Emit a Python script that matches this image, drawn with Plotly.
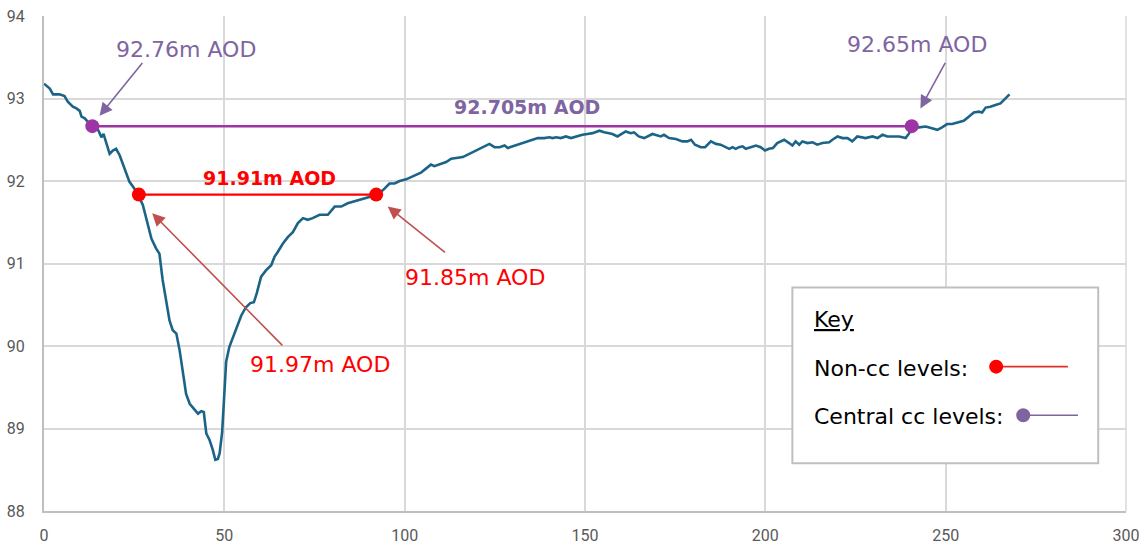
import plotly.graph_objects as go

# Ground profile (distance, level m AOD)
dist = [0, 1.6, 2.5, 4.3, 5.7, 6.6, 8.0, 9.0, 9.9, 10.4, 11.3, 13.1, 15.0, 15.9, 16.5, 17.7, 18.2, 19.1, 20.0, 21.0,
        21.9, 22.8, 23.7, 24.7, 25.9, 27.4, 28.8, 29.8, 31.1, 32.0, 32.9, 33.9, 34.8, 35.7, 36.7, 37.6, 38.5, 39.4,
        40.4, 41.3, 42.7, 43.6, 44.3, 45.0, 45.9, 46.8, 47.5, 48.2, 48.7, 49.4, 50.1, 50.5, 51.4, 52.4, 53.5, 54.7,
        56.0, 57.2, 58.2, 59.0, 60.2, 61.6, 63.0, 63.9, 64.8, 66.2, 67.6, 69.0, 70.4, 71.8, 73.1, 74.5, 76.4, 78.7,
        80.6, 82.4, 84.2, 86.5, 88.4, 90.3, 92.1, 94.0, 95.8, 97.2, 98.6, 100.4, 101.8, 103.2, 104.5, 105.9, 107.3,
        108.2, 109.6, 111.5, 112.9, 114.7, 116.1, 117.5, 118.8, 120.7, 122.1, 123.5, 124.9, 126.3, 127.7, 128.6,
        130.0, 131.3, 132.7, 134.1, 135.5, 136.9, 138.7, 140.1, 141.0, 142.0, 143.3, 144.7, 146.1, 147.5, 149.3,
        150.7, 152.1, 154.0, 155.3, 156.7, 157.6, 159.0, 160.4, 161.3, 162.7, 163.6, 164.9, 166.4, 168.7, 170.1,
        171.0, 171.9, 173.3, 175.2, 177.0, 178.4, 179.4, 180.5, 182.1, 183.3, 184.9, 186.3, 187.6, 189.0, 190.0,
        190.9, 191.8, 192.7, 193.7, 194.6, 196.0, 197.4, 198.7, 199.9, 201.0, 202.1, 203.3, 205.2, 206.6, 207.5,
        208.4, 209.4, 210.3, 211.7, 213.1, 214.4, 215.8, 217.7, 218.6, 220.0, 221.4, 222.8, 224.1, 225.5, 227.8,
        229.7, 231.1, 232.5, 233.8, 235.2, 237.1, 238.9, 239.9, 240.6, 242.6, 244.5, 246.3, 247.7, 249.0, 250.4,
        251.8, 253.7, 255.0, 256.4, 257.8, 259.2, 260.1, 261.1, 262.4, 263.8, 265.2, 266.1, 267.7]
level = [93.18, 93.12, 93.05, 93.05, 93.03, 92.96, 92.90, 92.88, 92.85, 92.78, 92.76, 92.67, 92.62, 92.53, 92.57,
         92.41, 92.33, 92.37, 92.39, 92.31, 92.21, 92.11, 91.99, 91.93, 91.85, 91.71, 91.49, 91.30, 91.18, 91.12,
         90.80, 90.56, 90.31, 90.19, 90.15, 89.95, 89.67, 89.42, 89.30, 89.25, 89.18, 89.21, 89.20, 88.94, 88.86,
         88.74, 88.62, 88.63, 88.70, 88.96, 89.42, 89.81, 89.99, 90.10, 90.22, 90.37, 90.47, 90.52, 90.53, 90.64,
         90.84, 90.92, 90.98, 91.08, 91.14, 91.24, 91.32, 91.38, 91.49, 91.55, 91.53, 91.55, 91.59, 91.59, 91.69,
         91.69, 91.73, 91.76, 91.79, 91.81, 91.83, 91.89, 91.97, 91.97, 92.00, 92.02, 92.05, 92.08, 92.10, 92.15,
         92.20, 92.18, 92.20, 92.23, 92.27, 92.28, 92.29, 92.32, 92.35, 92.39, 92.42, 92.45, 92.41, 92.41, 92.43,
         92.40, 92.42, 92.44, 92.46, 92.48, 92.50, 92.52, 92.52, 92.53, 92.52, 92.53, 92.52, 92.54, 92.52, 92.54,
         92.56, 92.57, 92.58, 92.61, 92.59, 92.58, 92.57, 92.54, 92.58, 92.60, 92.58, 92.59, 92.54, 92.52, 92.57,
         92.55, 92.54, 92.56, 92.52, 92.51, 92.48, 92.48, 92.50, 92.44, 92.41, 92.41, 92.48, 92.45, 92.44, 92.41,
         92.39, 92.41, 92.39, 92.41, 92.42, 92.39, 92.41, 92.43, 92.41, 92.37, 92.39, 92.40, 92.46, 92.50, 92.46,
         92.43, 92.48, 92.44, 92.48, 92.46, 92.47, 92.44, 92.46, 92.47, 92.50, 92.54, 92.52, 92.52, 92.48, 92.54,
         92.52, 92.54, 92.52, 92.56, 92.54, 92.54, 92.54, 92.52, 92.58, 92.66, 92.65, 92.66, 92.64, 92.62, 92.65,
         92.69, 92.69, 92.71, 92.73, 92.78, 92.83, 92.84, 92.83, 92.89, 92.90, 92.92, 92.94, 92.98, 93.05]

# Level lines
noncc_x = [26.3, 92.1]
noncc_y = [91.835, 91.835]
central_x = [13.4, 240.6]
central_y = [92.665, 92.665]

x_ticks = [0, 50, 100, 150, 200, 250, 300]
y_ticks = [88, 89, 90, 91, 92, 93, 94]

PURPLE_LINE = "#9e34a4"
PURPLE_TXT = "#8064a2"
RED = "#ff0000"
RED_ARROW = "#c0504d"
FONT = "DejaVu Sans"

fig = go.Figure()
fig.add_trace(go.Scatter(x=dist, y=level, mode="lines",
                         line=dict(color="#1c6487", width=2.6), showlegend=False, hoverinfo="skip"))
fig.add_trace(go.Scatter(x=central_x, y=central_y, mode="lines+markers",
                         line=dict(color=PURPLE_LINE, width=2.5),
                         marker=dict(color=PURPLE_LINE, size=14), showlegend=False))
fig.add_trace(go.Scatter(x=noncc_x, y=noncc_y, mode="lines+markers",
                         line=dict(color=RED, width=2.2),
                         marker=dict(color=RED, size=14), showlegend=False))

ann = []
def text(x, y, s, color, size, bold=False):
    ann.append(dict(x=x, y=y, xref="x", yref="y", text=(f"<b>{s}</b>" if bold else s), showarrow=False,
                    font=dict(family=FONT, size=size, color=color), xanchor="center", yanchor="middle"))

def arrow(tx, ty, hx, hy, color):
    ann.append(dict(x=hx, y=hy, ax=tx, ay=ty, xref="x", yref="y", axref="x", ayref="y", text="",
                    showarrow=True, arrowhead=2, arrowsize=1.6, arrowwidth=1.6, arrowcolor=color))

text(39.5, 93.60, "92.76m AOD", PURPLE_TXT, 22)
arrow(27.6, 93.45, 15.4, 92.79, PURPLE_TXT)
text(242.0, 93.66, "92.65m AOD", PURPLE_TXT, 22)
arrow(250.1, 93.45, 243.0, 92.88, PURPLE_TXT)
text(133.9, 92.90, "92.705m AOD", PURPLE_TXT, 19, bold=True)
text(62.5, 92.04, "91.91m AOD", RED, 19, bold=True)
text(119.6, 90.83, "91.85m AOD", RED, 22)
arrow(111.6, 91.12, 95.3, 91.69, RED_ARROW)
text(76.6, 89.78, "91.97m AOD", RED, 22)
arrow(66.5, 89.99, 30.0, 91.61, RED_ARROW)

# Key box
key_x0, key_x1, key_y0, key_y1 = 207.5, 292.3, 88.58, 90.71
shapes = [dict(type="rect", xref="x", yref="y", x0=key_x0, x1=key_x1, y0=key_y0, y1=key_y1,
               fillcolor="white", line=dict(color="#bfbfbf", width=2), layer="above")]
ann.append(dict(x=213.0, y=90.32, xref="x", yref="y", text="<u>Key</u>", showarrow=False, xanchor="left",
                yanchor="middle", font=dict(family=FONT, size=22, color="black")))
ann.append(dict(x=213.0, y=89.73, xref="x", yref="y", text="Non-cc levels:", showarrow=False, xanchor="left",
                yanchor="middle", font=dict(family=FONT, size=22, color="black")))
ann.append(dict(x=213.0, y=89.14, xref="x", yref="y", text="Central cc levels:", showarrow=False, xanchor="left",
                yanchor="middle", font=dict(family=FONT, size=22, color="black")))
for (mx, lx, yy, col, lcol) in [(264.0, 283.9, 89.75, RED, "#e0302a"), (271.5, 286.7, 89.16, PURPLE_TXT, PURPLE_TXT)]:
    shapes.append(dict(type="line", xref="x", yref="y", x0=mx, x1=lx, y0=yy, y1=yy,
                       line=dict(color=lcol, width=1.6), layer="above"))
    shapes.append(dict(type="circle", xref="x", yref="y", xsizemode="pixel", ysizemode="pixel",
                       xanchor=mx, yanchor=yy, x0=-7, x1=7, y0=-7, y1=7,
                       fillcolor=col, line=dict(color=col, width=0), layer="above"))

fig.update_layout(
    width=1144, height=545,
    margin=dict(l=44, r=18, t=16, b=34),
    paper_bgcolor="white", plot_bgcolor="white",
    annotations=ann, shapes=shapes, showlegend=False,
    xaxis=dict(range=[0, 300], tickvals=x_ticks, showgrid=True, gridcolor="#d9d9d9", gridwidth=1.5,
               zeroline=False, showline=True, linecolor="#bfbfbf", linewidth=2, automargin=False,
               tickfont=dict(family="Roboto", size=16, color="#595959"), ticks="outside", ticklen=9,
               tickcolor="rgba(0,0,0,0)", ticklabeloverflow="allow"),
    yaxis=dict(range=[88, 94], tickvals=y_ticks, showgrid=True, gridcolor="#d9d9d9", gridwidth=1.5,
               zeroline=False, showline=True, linecolor="#bfbfbf", linewidth=2, automargin=False,
               tickfont=dict(family="Roboto", size=16, color="#595959"), ticks="outside", ticklen=14,
               tickcolor="rgba(0,0,0,0)", ticklabeloverflow="allow"),
)
fig.add_shape(type="line", xref="paper", yref="paper", x0=1, x1=1, y0=0, y1=1,
              line=dict(color="#d9d9d9", width=1.5), layer="below")

fig.write_html("out.html", config={"displayModeBar": False},
               post_script="document.body.style.margin='0';document.body.style.overflow='hidden';")
